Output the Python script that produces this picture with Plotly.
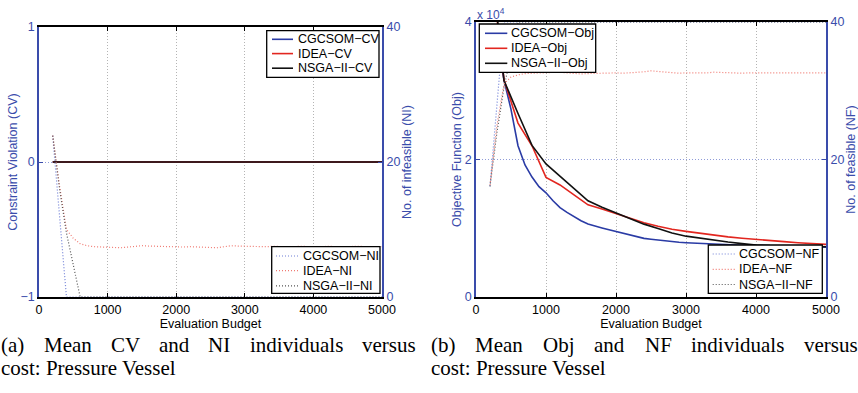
import plotly.graph_objects as go

# ---------------- data ----------------
# (a) constraint violation (left axis) and number of infeasible individuals (right axis)
cv_budget = [200, 5000]
cgcsom_cv = [0.0, 0.0]
idea_cv = [0.0, 0.0]
nsga2_cv = [0.0, 0.0]

cgcsom_ni_budget = [200, 300, 400, 5000]
cgcsom_ni = [23.9, 12.0, 0.0, 0.0]

nsga2_ni_budget = [200, 300, 400, 500, 600, 5000]
nsga2_ni = [23.9, 16.0, 9.5, 4.5, 0.0, 0.0]

idea_ni_budget = list(range(200, 5001, 100))
idea_ni = [23.9, 16.4, 10.0, 8.7, 7.9, 7.6, 7.45, 7.4, 7.4, 7.35,
           7.3, 7.4, 7.5, 7.6, 7.55, 7.5, 7.45, 7.45, 7.45, 7.4,
           7.45, 7.4, 7.35, 7.35, 7.3, 7.45, 7.6, 7.55, 7.5, 7.45,
           7.45, 7.45, 7.5, 7.45, 7.4, 7.45, 7.5, 7.45, 7.4, 7.45,
           7.5, 7.45, 7.4, 7.45, 7.5, 7.5, 7.45, 7.45, 7.45]

# (b) objective function (left axis) and number of feasible individuals (right axis)
cgcsom_obj_budget = list(range(300, 5001, 100))
cgcsom_obj = [38000, 31500, 27300, 22000, 19200, 17450, 16050, 15150, 14000, 13000,
              12300, 11650, 11100, 10620, 10300, 10050, 9780, 9520, 9280, 9000,
              8770, 8530, 8400, 8270, 8130, 8040, 7970, 7900, 7840, 7780,
              7720, 7670, 7620, 7590, 7550, 7520, 7490, 7470, 7450, 7420,
              7400, 7370, 7350, 7330, 7310, 7290, 7270, 7250]

idea_obj_budget = [300, 400, 600, 800, 1000, 1200, 1400, 1600, 1800, 2000, 2200, 2400,
                   2600, 2800, 3000, 3200, 3400, 3600, 3800, 4000, 4200, 4400, 4600,
                   4800, 5000]
idea_obj = [40500, 31600, 25300, 22000, 17400, 16300, 14850, 13400, 12800, 12100, 11450,
            10800, 10300, 9850, 9550, 9250, 9000, 8750, 8550, 8350, 8180, 8050, 7900,
            7780, 7660]

nsga2_obj_budget = [300, 400, 600, 800, 1000, 1200, 1400, 1600, 1800, 2000, 2200, 2400,
                    2600, 2800, 3000, 3200, 3400, 3600, 3800, 4000, 4200, 4400, 4600,
                    4800, 5000]
nsga2_obj = [41000, 31500, 26700, 22050, 19350, 17550, 15800, 14000, 13050, 12200, 11350,
             10600, 9950, 9300, 8850, 8530, 8260, 7990, 7770, 7560, 7470, 7420, 7380,
             7350, 7320]

cgcsom_nf_budget = [200, 300, 400, 5000]
cgcsom_nf = [16.1, 28.0, 40.0, 40.0]

nsga2_nf_budget = [200, 300, 400, 500, 600, 5000]
nsga2_nf = [16.1, 24.0, 30.5, 35.5, 40.0, 40.0]

idea_nf_budget = list(range(200, 5001, 100))
idea_nf = [16.3, 25.0, 31.0, 32.0, 32.3, 32.5, 32.55, 32.6, 32.6, 32.65,
           32.7, 32.6, 32.5, 32.45, 32.5, 32.55, 32.55, 32.55, 32.6, 32.55,
           32.6, 32.7, 32.75, 32.9, 32.8, 32.7, 32.6, 32.55, 32.6, 32.6,
           32.55, 32.6, 32.7, 32.65, 32.6, 32.6, 32.55, 32.6, 32.6, 32.65,
           32.6, 32.6, 32.55, 32.6, 32.6, 32.65, 32.6, 32.6, 32.6]

budget_ticks = [0, 1000, 2000, 3000, 4000, 5000]
cv_ticks = [-1, 0, 1]
count_ticks = [0, 20, 40]
obj_ticks = [0, 20000, 40000]
obj_tick_text = ["0", "2", "4"]

cv_labels = ["CGCSOM\u2212CV", "IDEA\u2212CV", "NSGA\u2212II\u2212CV"]
ni_labels = ["CGCSOM\u2212NI", "IDEA\u2212NI", "NSGA\u2212II\u2212NI"]
obj_labels = ["CGCSOM\u2212Obj", "IDEA\u2212Obj", "NSGA\u2212II\u2212Obj"]
nf_labels = ["CGCSOM\u2212NF", "IDEA\u2212NF", "NSGA\u2212II\u2212NF"]

caption_a = ["(a)", "Mean", "CV", "and", "NI", "individuals", "versus"]
caption_b = ["(b)", "Mean", "Obj", "and", "NF", "individuals", "versus"]
caption_tail = "cost: Pressure Vessel"

# ---------------- style ----------------
W, H = 858, 393
AX_BLUE = "#3a4cab"
C_BLUE = "#2a3ba5"
C_RED = "#e2261f"
C_BLACK = "#111111"
D_BLUE = "#6f7fd6"
D_RED = "#f07a72"
D_BLACK = "#555555"
SANS = "Liberation Sans, Arial, sans-serif"
SERIF = "Liberation Serif, Times New Roman, serif"
DOTS = "1px,2px"


def px(xp):
    return xp / W


def py(yp):
    return 1 - yp / H


fig = go.Figure()

# (a) solid CV curves
for vals, color, name in [(cgcsom_cv, C_BLUE, cv_labels[0]),
                          (idea_cv, C_RED, cv_labels[1]),
                          (nsga2_cv, C_BLACK, cv_labels[2])]:
    fig.add_trace(go.Scatter(x=cv_budget, y=vals, mode="lines", name=name,
                             line=dict(color=color, width=1.6),
                             xaxis="x", yaxis="y", showlegend=False))

# (a) dotted NI curves
for bx, vals, color, name in [(cgcsom_ni_budget, cgcsom_ni, D_BLUE, ni_labels[0]),
                              (idea_ni_budget, idea_ni, D_RED, ni_labels[1]),
                              (nsga2_ni_budget, nsga2_ni, D_BLACK, ni_labels[2])]:
    fig.add_trace(go.Scatter(x=bx, y=vals, mode="lines", name=name,
                             line=dict(color=color, width=1.2, dash=DOTS),
                             xaxis="x", yaxis="y2", showlegend=False))

# (b) solid objective curves
for bx, vals, color, name in [(cgcsom_obj_budget, cgcsom_obj, C_BLUE, obj_labels[0]),
                              (idea_obj_budget, idea_obj, C_RED, obj_labels[1]),
                              (nsga2_obj_budget, nsga2_obj, C_BLACK, obj_labels[2])]:
    fig.add_trace(go.Scatter(x=bx, y=vals, mode="lines", name=name,
                             line=dict(color=color, width=1.6),
                             xaxis="x2", yaxis="y3", showlegend=False))

# (b) dotted NF curves
for bx, vals, color, name in [(cgcsom_nf_budget, cgcsom_nf, D_BLUE, nf_labels[0]),
                              (idea_nf_budget, idea_nf, D_RED, nf_labels[1]),
                              (nsga2_nf_budget, nsga2_nf, D_BLACK, nf_labels[2])]:
    fig.add_trace(go.Scatter(x=bx, y=vals, mode="lines", name=name,
                             line=dict(color=color, width=1.2, dash=DOTS),
                             xaxis="x2", yaxis="y4", showlegend=False))

x_common = dict(range=[0, 5000], tickvals=budget_ticks, ticks="inside", ticklen=4,
                tickcolor="#000", showline=True, linecolor="#000", linewidth=1.6,
                mirror="ticks", showgrid=True, gridcolor="#b4b4b4", griddash=DOTS,
                gridwidth=1, zeroline=False, automargin=False,
                tickfont=dict(family=SANS, size=12.5, color="#000"),
                title=dict(text="Evaluation Budget", font=dict(family=SANS, size=12.5, color="#000"),
                           standoff=0))
y_left = dict(ticks="inside", ticklen=4, tickcolor=AX_BLUE, showline=True,
              linecolor=AX_BLUE, linewidth=1.5, zeroline=False, showgrid=True,
              gridcolor="#8f9bd8", griddash=DOTS, gridwidth=1, automargin=False,
              tickfont=dict(family=SANS, size=12.5, color=AX_BLUE))
y_right = dict(ticks="inside", ticklen=4, tickcolor=AX_BLUE, showline=True,
               linecolor=AX_BLUE, linewidth=2, zeroline=False, showgrid=False,
               side="right", range=[0, 40], tickvals=count_ticks, automargin=False,
               tickfont=dict(family=SANS, size=12.5, color=AX_BLUE))
title_font = dict(family=SANS, size=12.5, color=AX_BLUE)

dom_a = [96 / H, (H - 27) / H]
dom_b = [96 / H, (H - 22) / H]

fig.update_layout(
    width=W, height=H,
    margin=dict(l=0, r=0, t=0, b=0, autoexpand=False),
    paper_bgcolor="white", plot_bgcolor="white",
    showlegend=False,
    xaxis=dict(domain=[px(39), px(382)], anchor="y", **x_common),
    xaxis2=dict(domain=[px(476), px(826)], anchor="y3", **x_common),
    yaxis=dict(domain=dom_a, anchor="x", range=[-1, 1], tickvals=cv_ticks,
               title=dict(text="Constraint Violation (CV)", font=title_font, standoff=0),
               **y_left),
    yaxis2=dict(overlaying="y", anchor="x",
                title=dict(text="No. of infeasible (NI)", font=title_font, standoff=0),
                **y_right),
    yaxis3=dict(domain=dom_b, anchor="x2", range=[0, 40000], tickvals=obj_ticks,
                ticktext=obj_tick_text,
                title=dict(text="Objective Function (Obj)", font=title_font, standoff=0),
                **y_left),
    yaxis4=dict(overlaying="y3", anchor="x2",
                title=dict(text="No. of feasible (NF)", font=title_font, standoff=2),
                **y_right),
)

shapes = []
annotations = []


def legend_box(box, labels, colors, dash, rows, sample, text_x):
    x0, y0, x1, y1 = box
    shapes.append(dict(type="rect", xref="paper", yref="paper", layer="above",
                       x0=px(x0), x1=px(x1), y0=py(y1), y1=py(y0),
                       fillcolor="white", line=dict(color="#000", width=1.3)))
    for lab, col, yr in zip(labels, colors, rows):
        shapes.append(dict(type="line", xref="paper", yref="paper", layer="above",
                           x0=px(sample[0]), x1=px(sample[1]), y0=py(yr), y1=py(yr),
                           line=dict(color=col, width=1.6 if dash == "solid" else 1.2,
                                     dash=dash)))
        annotations.append(dict(text=lab, xref="paper", yref="paper", x=px(text_x),
                                y=py(yr), xanchor="left", yanchor="middle", showarrow=False,
                                font=dict(family=SANS, size=12.5, color="#000")))


legend_box((266.7, 30.7, 379, 77.3), cv_labels, [C_BLUE, C_RED, C_BLACK], "solid",
           [39.3, 53.6, 68.2], (272, 293), 295.5)
legend_box((271.7, 246.7, 380, 293.3), ni_labels, [D_BLUE, D_RED, D_BLACK], DOTS,
           [256, 270.7, 285.8], (276, 298), 300.5)
legend_box((479.3, 24, 595.7, 72.3), obj_labels, [C_BLUE, C_RED, C_BLACK], "solid",
           [33.3, 48.3, 63.3], (485, 507.3), 509)
legend_box((708.3, 245, 822.3, 293.3), nf_labels, [D_BLUE, D_RED, D_BLACK], DOTS,
           [254, 269.3, 284.5], (712.7, 735), 737)

# exponent marker for the objective axis
annotations.append(dict(text="x 10<sup>4</sup>", xref="paper", yref="paper",
                        x=px(475), y=py(14), xanchor="left", yanchor="middle",
                        showarrow=False, font=dict(family=SANS, size=12, color=AX_BLUE)))

# justified captions
starts_a = [0, 42.5, 109.5, 157.9, 207.4, 248.8, 361.3]
starts_b = [430, 474.4, 542.0, 593.4, 643.5, 690.2, 803.3]
cap_font = dict(family=SERIF, size=21, color="#000")
for words, starts in [(caption_a, starts_a), (caption_b, starts_b)]:
    for w, s in zip(words, starts):
        annotations.append(dict(text=w, xref="paper", yref="paper", x=px(s - 1), y=py(345),
                                xanchor="left", yanchor="middle", showarrow=False,
                                font=cap_font))
for s in (0, 430):
    annotations.append(dict(text=caption_tail, xref="paper", yref="paper", x=px(s - 1),
                            y=py(368), xanchor="left", yanchor="middle", showarrow=False,
                            font=cap_font))

fig.update_layout(shapes=shapes, annotations=annotations)
fig.write_html("out.html")
